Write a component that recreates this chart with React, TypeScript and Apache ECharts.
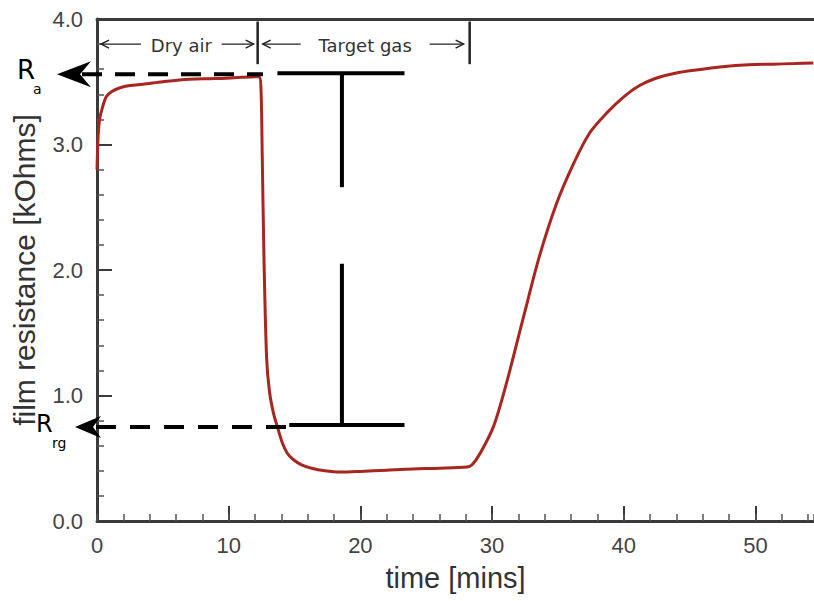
import React, { useEffect, useRef } from "react";
import * as echarts from "echarts";

// ---- data ----
const time = [
  0, 0.08, 0.2, 0.4, 0.7, 1.1, 1.7, 2.5, 3.5, 5, 7, 9, 11, 12.3,
  12.45, 12.55, 12.68, 12.88, 13.1, 13.4, 13.7, 14.05, 14.45, 14.9, 15.5, 16.3, 17.3, 18.5,
  20, 22, 24, 26, 28.1, 28.5, 29.1, 30.1, 31.1, 32.4, 33.6, 34.9, 36.2, 37.4, 38.7, 40,
  41.2, 42.5, 44, 46, 47.5, 49.5, 51.3, 53, 54.4,
];
const resistance = [
  2.8, 3.05, 3.2, 3.29, 3.38, 3.42, 3.45, 3.47, 3.48, 3.5, 3.52, 3.525, 3.535, 3.54,
  3.45, 2.9, 2.1, 1.3, 1.03, 0.86, 0.75, 0.63, 0.54, 0.49, 0.45, 0.42, 0.4, 0.39,
  0.395, 0.405, 0.415, 0.42, 0.43, 0.45, 0.54, 0.75, 1.1, 1.63, 2.11, 2.53, 2.85, 3.09, 3.25, 3.38,
  3.47, 3.53, 3.57, 3.6, 3.62, 3.635, 3.64, 3.645, 3.65,
];

const X_MIN = 0;
const X_MAX = 54.45;
const Y_MIN = 0;
const Y_MAX = 4;
const X_INTERVAL = 10;
const X_MINOR_INTERVAL = 2;
const Y_INTERVAL = 1;

// annotation anchors (data units)
const RA = 3.56;
const RRG = 0.75;
const GAS_ON = 12.2;
const GAS_OFF = 28.3;
const BRACKET_X = 18.6;
const BRACKET_RIGHT = 23.35;
const RA_SOLID_LEFT = 13.7;
const RA_DASH_RIGHT = 12.6;
const RRG_SOLID_LEFT = 14.6;
const BRACKET_GAP_LOW = 2.05;
const BRACKET_GAP_HIGH = 2.66;
const PHASE_ARROW_Y = 3.8;
const PHASE_MARK_TOP = 3.98;
const PHASE_MARK_BOTTOM = 3.64;
const PHASE_LABELS = ["Dry air", "Target gas"];

const TICK_FONT = "'Liberation Sans', Arial, sans-serif";
const NOTE_FONT = "'DejaVu Sans', sans-serif";

export default function App() {
  const ref = useRef<HTMLDivElement>(null);

  useEffect(() => {
    if (!ref.current) return;
    const chart = echarts.init(ref.current, null, { renderer: "svg" });
    const axisColor = "#3a3a3a";
    const option: any = {
      animation: false,
      backgroundColor: "#ffffff",
      grid: { left: 97, right: -2, top: 19, bottom: 80, containLabel: false },
      xAxis: [
        {
          type: "value",
          position: "bottom",
          min: X_MIN,
          max: X_MAX,
          interval: X_INTERVAL,
          name: "time [mins]",
          nameLocation: "middle",
          nameGap: 42,
          nameTextStyle: { fontSize: 29, color: "#333", fontFamily: TICK_FONT },
          axisLine: { show: true, lineStyle: { color: axisColor, width: 3 } },
          axisTick: { show: true, inside: true, length: 15, lineStyle: { color: axisColor, width: 2 } },
          axisLabel: {
            fontSize: 22,
            color: "#444",
            fontFamily: TICK_FONT,
            margin: 13,
            showMaxLabel: false,
            formatter: (v: number) => (v % X_INTERVAL === 0 ? String(v) : ""),
          },
          splitLine: { show: false },
        },
        {
          type: "value",
          position: "bottom",
          min: X_MIN,
          max: X_MAX,
          interval: X_MINOR_INTERVAL,
          axisLine: { show: false },
          axisTick: { show: true, inside: true, length: 7, lineStyle: { color: "#555", width: 1.5 } },
          axisLabel: { show: false },
          splitLine: { show: false },
        },
        {
          type: "value",
          position: "top",
          min: X_MIN,
          max: X_MAX,
          axisLine: { show: true, lineStyle: { color: axisColor, width: 3 } },
          axisTick: { show: false },
          axisLabel: { show: false },
          splitLine: { show: false },
        },
      ],
      yAxis: {
        type: "value",
        min: Y_MIN,
        max: Y_MAX,
        interval: Y_INTERVAL,
        name: "film resistance [kOhms]",
        nameLocation: "middle",
        nameGap: 58,
        nameTextStyle: { fontSize: 30, color: "#333", fontFamily: TICK_FONT },
        axisLine: { show: true, lineStyle: { color: axisColor, width: 3 } },
        axisTick: { show: true, inside: true, length: 15, lineStyle: { color: axisColor, width: 2 } },
        minorTick: { show: true, splitNumber: 5, length: 7, lineStyle: { color: "#555", width: 1.5 } },
        axisLabel: {
          fontSize: 22,
          color: "#444",
          fontFamily: TICK_FONT,
          margin: 14,
          formatter: (v: number) => v.toFixed(1),
        },
        splitLine: { show: false },
      },
      series: [
        {
          type: "line",
          xAxisIndex: 0,
          data: time.map((t, i) => [t, resistance[i]]),
          showSymbol: false,
          symbol: "none",
          smooth: 0.3,
          lineStyle: { color: "#a8261f", width: 3 },
          z: 3,
        },
      ],
    };
    chart.setOption(option);

    const P = (x: number, y: number) =>
      chart.convertToPixel({ xAxisIndex: 0, yAxisIndex: 0 }, [x, y]) as number[];

    const black = "#000";
    const ln = (x1: number, y1: number, x2: number, y2: number, w: number, dash?: number[], color = black) => ({
      type: "line",
      silent: true,
      z: 10,
      shape: { x1, y1, x2, y2 },
      style: { stroke: color, lineWidth: w, lineDash: dash, lineCap: "butt" },
    });

    const [x0, ay] = P(0, PHASE_ARROW_Y);
    const [xOn, markTop] = P(GAS_ON, PHASE_MARK_TOP);
    const [xOff, markBottom] = P(GAS_OFF, PHASE_MARK_BOTTOM);
    const [, raY] = P(0, RA);
    const [, rrgY] = P(0, RRG);
    const [raDashEnd] = P(RA_DASH_RIGHT, 0);
    const [raSolidLeft] = P(RA_SOLID_LEFT, 0);
    const [rrgSolidLeft] = P(RRG_SOLID_LEFT, 0);
    const [bx, gapHigh] = P(BRACKET_X, BRACKET_GAP_HIGH);
    const [, gapLow] = P(BRACKET_X, BRACKET_GAP_LOW);
    const [bRight] = P(BRACKET_RIGHT, 0);

    const thin = "#222";
    const chevronL = (tip: number, y: number) => ({
      type: "polyline",
      silent: true,
      z: 10,
      shape: { points: [[tip + 8, y - 4], [tip, y], [tip + 8, y + 4]] },
      style: { stroke: thin, lineWidth: 1.4, fill: null },
    });
    const chevronR = (tip: number, y: number) => ({
      type: "polyline",
      silent: true,
      z: 10,
      shape: { points: [[tip - 8, y - 4], [tip, y], [tip - 8, y + 4]] },
      style: { stroke: thin, lineWidth: 1.4, fill: null },
    });

    const leftTip1 = x0 + 4;
    const rightTip1 = xOn - 4;
    const leftTip2 = xOn + 5;
    const rightTip2 = xOff - 6;

    const graphics: any[] = [
      // phase markers
      ln(xOn, markTop, xOn, markBottom, 2.5, undefined, thin),
      ln(xOff, markTop, xOff, markBottom, 2.5, undefined, thin),
      ln(leftTip1, ay, leftTip1 + 40, ay, 1.4, undefined, thin),
      chevronL(leftTip1, ay),
      ln(rightTip1 - 32, ay, rightTip1, ay, 1.4, undefined, thin),
      chevronR(rightTip1, ay),
      ln(leftTip2, ay, leftTip2 + 38, ay, 1.4, undefined, thin),
      chevronL(leftTip2, ay),
      ln(rightTip2 - 34, ay, rightTip2, ay, 1.4, undefined, thin),
      chevronR(rightTip2, ay),
      {
        type: "text",
        silent: true,
        z: 10,
        style: {
          text: PHASE_LABELS[0],
          x: (leftTip1 + 40 + rightTip1 - 32) / 2,
          y: ay + 1,
          align: "center",
          verticalAlign: "middle",
          font: `18px ${NOTE_FONT}`,
          fill: "#333",
        },
      },
      {
        type: "text",
        silent: true,
        z: 10,
        style: {
          text: PHASE_LABELS[1],
          x: (leftTip2 + 38 + rightTip2 - 34) / 2,
          y: ay + 1,
          align: "center",
          verticalAlign: "middle",
          font: `18px ${NOTE_FONT}`,
          fill: "#333",
        },
      },
      // Ra dashed line + arrow
      ln(82, raY, raDashEnd, raY, 4, [20, 13]),
      {
        type: "polygon",
        silent: true,
        z: 11,
        shape: { points: [[57, raY], [91, raY - 13], [80, raY], [91, raY + 13]] },
        style: { fill: black },
      },
      // Rrg dashed line + arrow
      ln(96, rrgY, rrgSolidLeft, rrgY, 4, [20, 14]),
      {
        type: "polygon",
        silent: true,
        z: 11,
        shape: { points: [[75, rrgY], [101, rrgY - 11], [93, rrgY], [101, rrgY + 11]] },
        style: { fill: black },
      },
      // bracket
      ln(raSolidLeft, raY - 1, bRight, raY - 1, 4),
      ln(rrgSolidLeft, rrgY - 2, bRight, rrgY - 2, 4),
      ln(bx, raY - 1, bx, gapHigh, 4),
      ln(bx, gapLow, bx, rrgY - 2, 4),
      // labels
      {
        type: "text",
        silent: true,
        z: 12,
        style: { text: "R", x: 17, y: raY - 4, verticalAlign: "middle", font: `26px ${NOTE_FONT}`, fill: black },
      },
      {
        type: "text",
        silent: true,
        z: 12,
        style: { text: "a", x: 33, y: raY + 15, verticalAlign: "middle", font: `14px ${NOTE_FONT}`, fill: black },
      },
      {
        type: "text",
        silent: true,
        z: 12,
        style: { text: "R", x: 36, y: rrgY - 3, verticalAlign: "middle", font: `24px ${NOTE_FONT}`, fill: black },
      },
      {
        type: "text",
        silent: true,
        z: 12,
        style: { text: "rg", x: 52, y: rrgY + 16, verticalAlign: "middle", font: `14px ${NOTE_FONT}`, fill: black },
      },
    ];
    chart.setOption({ graphic: graphics });

    return () => chart.dispose();
  }, []);

  return (
    <div
      ref={ref}
      style={{ position: "absolute", left: 0, top: 0, width: 814, height: 601, background: "#fff" }}
    />
  );
}
